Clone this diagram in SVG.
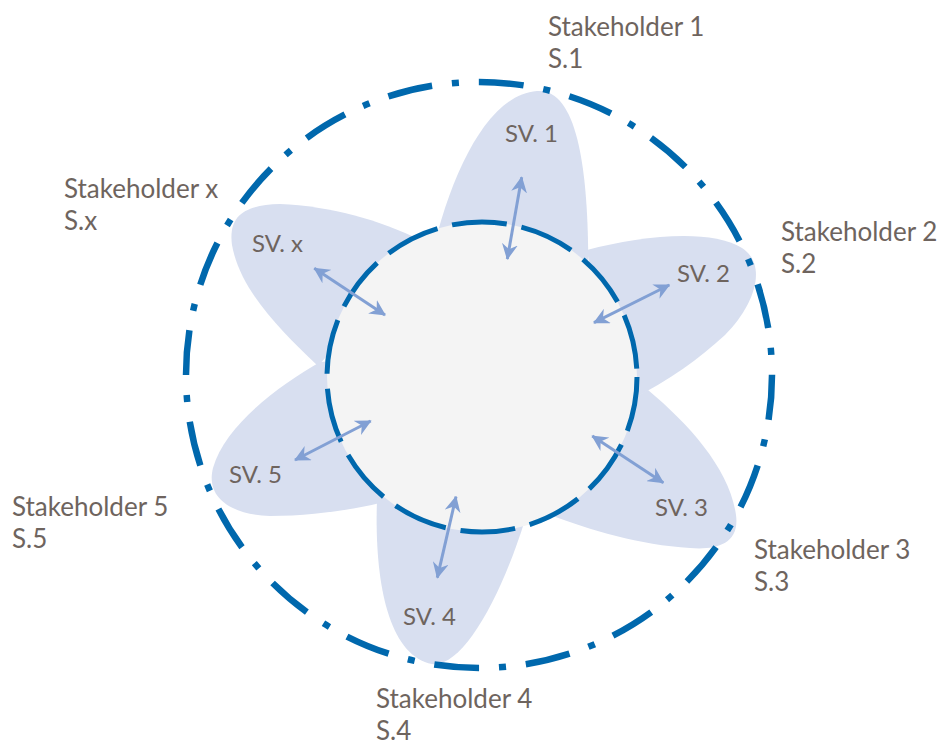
<svg xmlns="http://www.w3.org/2000/svg" width="942" height="743" viewBox="0 0 942 743">
<defs>
<style>
.petal{fill:#d8dff0;}
.inner{fill:#f4f4f4;stroke:#0068ad;stroke-width:5;stroke-dasharray:55 15;}
.outer{fill:none;stroke:#0068ad;stroke-width:6.5;stroke-dasharray:45 20 7 20;}
.arr{stroke:#82a0d4;stroke-width:3;fill:none;marker-start:url(#ah);marker-end:url(#ah);}
.lbl{font-family:Lato,"Liberation Sans",sans-serif;font-size:26px;fill:#6e645e;}
.sv{font-family:Lato,"Liberation Sans",sans-serif;font-size:24px;fill:#6e645e;}
</style>
<marker id="ah" viewBox="0 0 16 16" refX="15" refY="8" markerWidth="16" markerHeight="16" markerUnits="userSpaceOnUse" orient="auto-start-reverse">
<path d="M16,8 L0,0 L5,8 L0,16 z" fill="#82a0d4"/>
</marker>
</defs>
<rect width="942" height="743" fill="#ffffff"/>
<g id="petals">
<path id="petal-1" class="petal" d="M425,290 C440,200 480,95 537,91 C580,88 590,180 588,290 Z"/>
<path id="petal-2" class="petal" d="M600,330 L587,250 C640,236 710,228 742,248 C768,265 755,305 725,335 C700,358 670,380 630,400 Z"/>
<path id="petal-3" class="petal" d="M600,470 L630,400 L648,390 C690,425 730,470 736,515 C740,545 715,550 690,548 C640,545 590,530 550,515 Z"/>
<path id="petal-4" class="petal" d="M378,480 C372,570 385,655 432,664 C462,668 500,600 525,520 Z"/>
<path id="petal-5" class="petal" d="M345,360 L320,362 C280,385 225,425 213,468 C205,500 235,515 270,516 C310,516 350,510 380,503 Z"/>
<path id="petal-x" class="petal" d="M350,330 L318,366 C280,330 240,290 232,245 C228,215 245,205 280,204 C330,206 380,220 420,240 Z"/>
</g>
<g id="inner-circle">
<circle class="inner" cx="482" cy="377" r="155"/>
</g>
<g id="outer-circle">
<circle class="outer" cx="479" cy="375" r="293"/>
</g>
<g id="connectors">
<line class="arr" x1="521.7" y1="177.3" x2="507.3" y2="259"/>
<line class="arr" x1="669.3" y1="285" x2="594" y2="322.7"/>
<line class="arr" x1="592.3" y1="436" x2="663.3" y2="482.7"/>
<line class="arr" x1="456" y1="496.7" x2="437.3" y2="577.7"/>
<line class="arr" x1="370.7" y1="421" x2="295" y2="460"/>
<line class="arr" x1="314.3" y1="268.3" x2="385" y2="315"/>
</g>
<g id="sv-labels">
<text class="sv" x="505" y="142">SV. 1</text>
<text class="sv" x="677" y="282">SV. 2</text>
<text class="sv" x="655" y="516">SV. 3</text>
<text class="sv" x="403" y="625">SV. 4</text>
<text class="sv" x="229" y="483">SV. 5</text>
<text class="sv" x="252" y="252">SV. x</text>
</g>
<g id="stakeholder-1"><text class="lbl" x="548" y="36">Stakeholder 1</text><text class="lbl" x="548" y="68">S.1</text></g>
<g id="stakeholder-2"><text class="lbl" x="781" y="241">Stakeholder 2</text><text class="lbl" x="781" y="273">S.2</text></g>
<g id="stakeholder-3"><text class="lbl" x="754" y="559">Stakeholder 3</text><text class="lbl" x="754" y="591">S.3</text></g>
<g id="stakeholder-4"><text class="lbl" x="376" y="708">Stakeholder 4</text><text class="lbl" x="376" y="740">S.4</text></g>
<g id="stakeholder-5"><text class="lbl" x="12" y="516">Stakeholder 5</text><text class="lbl" x="12" y="548">S.5</text></g>
<g id="stakeholder-x"><text class="lbl" x="64" y="198">Stakeholder x</text><text class="lbl" x="64" y="230">S.x</text></g>
</svg>
